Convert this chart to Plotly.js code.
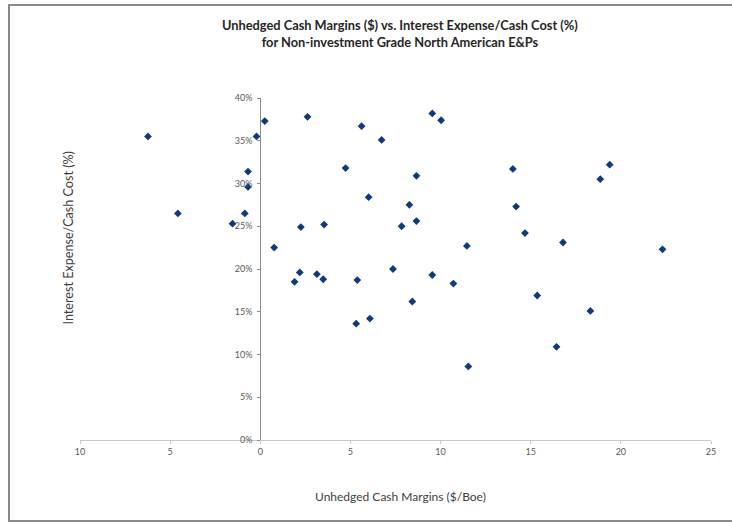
<!DOCTYPE html>
<html>
<head>
<meta charset="utf-8">
<script src="https://cdn.plot.ly/plotly-3.0.1.min.js"></script>
<style>
  html, body { margin: 0; padding: 0; background: #ffffff; }
  #chart { width: 732px; height: 523px; }
</style>
</head>
<body>
<div id="chart"></div>
<script>
// Unhedged cash margins ($/Boe)
const cashMargins = [
  -6.23, -4.57, -1.54, -0.86, -0.68, -0.68, -0.21, 0.25, 0.77, 2.62,
  5.62, 6.73, 9.54, 10.03, 4.73, 8.66, 6.01, 8.27, 2.25, 3.54,
  7.84, 8.66, 11.46, 2.19, 3.14, 7.36, 9.54, 1.90, 3.49, 5.38,
  10.71, 5.32, 6.08, 8.43, 11.54, 14.01, 19.38, 18.86, 14.19, 14.68,
  16.79, 22.31, 15.36, 18.31, 16.43
];
// Interest expense / cash cost (%)
const interestPct = [
  35.5, 26.5, 25.3, 26.5, 31.4, 29.6, 35.5, 37.3, 22.5, 37.8,
  36.7, 35.1, 38.2, 37.4, 31.8, 30.9, 28.4, 27.5, 24.9, 25.2,
  25.0, 25.6, 22.7, 19.6, 19.4, 20.0, 19.3, 18.5, 18.8, 18.7,
  18.3, 13.6, 14.2, 16.2, 8.6, 31.7, 32.2, 30.5, 27.3, 24.2,
  23.1, 22.3, 16.9, 15.1, 10.9
];
const xTickVals = [-10, -5, 0, 5, 10, 15, 20, 25];
const xTickText = ['10', '5', '0', '5', '10', '15', '20', '25'];
const yTickVals = [0, 5, 10, 15, 20, 25, 30, 35, 40];
const yTickText = ['0%', '5%', '10%', '15%', '20%', '25%', '30%', '35%', '40%'];

const titleLines = ['Unhedged Cash Margins ($) vs. Interest Expense/Cash Cost (%)',
                    'for Non-investment Grade North American E&amp;Ps'];
const xTitle = 'Unhedged Cash Margins ($/Boe)';
const yTitle = 'Interest Expense/Cash Cost (%)';

const FONT = 'Lato, "Open Sans", sans-serif';

const trace = {
  type: 'scatter',
  mode: 'markers',
  x: cashMargins,
  y: interestPct,
  marker: { symbol: 'diamond', size: 6, color: '#0f3b7c' },
  hoverinfo: 'x+y'
};

const layout = {
  width: 732,
  height: 523,
  margin: { l: 80, r: 21, t: 98, b: 83 },
  paper_bgcolor: '#ffffff',
  plot_bgcolor: '#ffffff',
  showlegend: false,
  font: { family: FONT, color: '#404040' },
  xaxis: {
    range: [-10, 25],
    tickvals: xTickVals,
    ticktext: xTickText,
    showgrid: false,
    zeroline: false,
    showline: true,
    linecolor: '#c8c8c8',
    linewidth: 1,
    ticks: 'outside',
    ticklen: 3,
    tickcolor: '#c8c8c8',
    tickfont: { family: FONT, size: 9, color: '#595959' },
    fixedrange: true
  },
  yaxis: {
    range: [0, 40],
    tickvals: yTickVals,
    ticktext: yTickText,
    showgrid: false,
    zeroline: false,
    showline: true,
    linecolor: '#8c8c8c',
    linewidth: 1,
    ticks: 'outside',
    ticklen: 3,
    tickcolor: '#8c8c8c',
    ticklabelstandoff: 3,
    anchor: 'free',
    position: 10 / 35,
    tickfont: { family: FONT, size: 9, color: '#595959' },
    fixedrange: true
  },
  annotations: [
    {
      text: '<b>' + titleLines[0] + '</b><br><b>' + titleLines[1] + '</b>',
      xref: 'paper', yref: 'paper',
      x: (400 - 80) / 631, y: (440.5 - 34) / 342,
      xanchor: 'center', yanchor: 'middle', showarrow: false,
      font: { family: FONT, size: 12.8, color: '#262626' }
    },
    {
      text: xTitle, xref: 'paper', yref: 'paper',
      x: (400 - 80) / 631, y: (440.5 - 497) / 342,
      xanchor: 'center', yanchor: 'middle', showarrow: false,
      font: { family: FONT, size: 12, color: '#404040' }
    },
    {
      text: yTitle, xref: 'paper', yref: 'paper',
      x: (68 - 80) / 631, y: (440.5 - 239) / 342,
      xanchor: 'center', yanchor: 'middle', showarrow: false, textangle: -90,
      font: { family: FONT, size: 12.6, color: '#404040' }
    }
  ],
  shapes: [
    {
      type: 'rect', xref: 'paper', yref: 'paper',
      x0: (9 - 80) / 631, x1: (740 - 80) / 631,
      y0: (440.5 - 521.5) / 342, y1: (440.5 - 5.5) / 342,
      line: { color: '#8a8a8a', width: 2 }, fillcolor: 'rgba(0,0,0,0)'
    }
  ]
};

Plotly.newPlot('chart', [trace], layout, { displayModeBar: false, staticPlot: true });
</script>
</body>
</html>
